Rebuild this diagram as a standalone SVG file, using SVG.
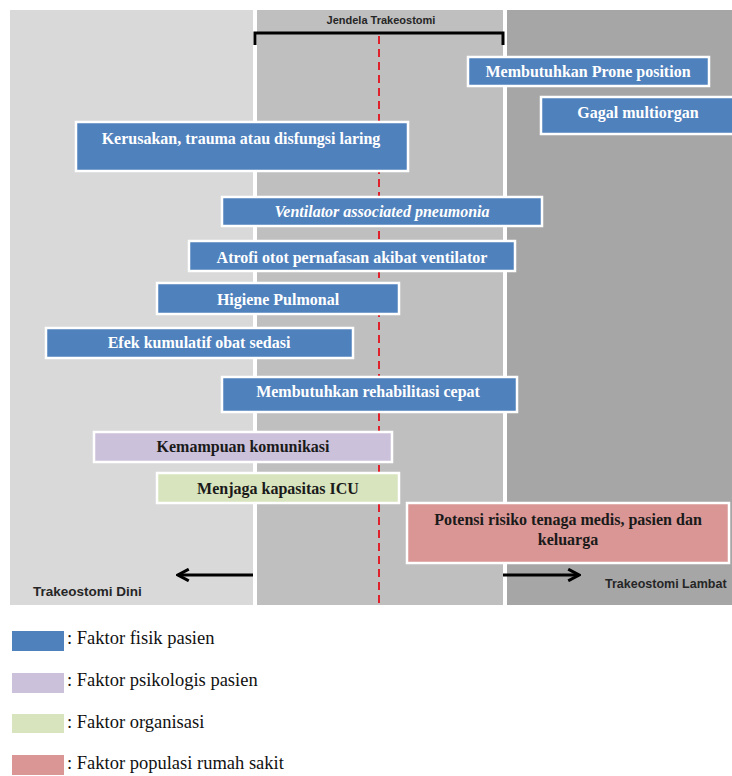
<svg xmlns="http://www.w3.org/2000/svg" width="732" height="776" viewBox="0 0 732 776">
<style>
.bx{stroke:#fff;stroke-width:2.5}
.blue{fill:#4f81bd}
.purple{fill:#ccc1da}
.green{fill:#d7e4bd}
.pink{fill:#d99694}
.tw{font-family:"Liberation Serif","Times New Roman",serif;font-weight:bold;font-size:16px;fill:#fff;text-anchor:middle}
.td{font-family:"Liberation Serif","Times New Roman",serif;font-weight:bold;font-size:16px;fill:#1a1a1a;text-anchor:middle}
.lab{font-family:"Liberation Sans",Arial,sans-serif;font-weight:bold;fill:#262626}
.leg{font-family:"Liberation Serif","Times New Roman",serif;font-size:18.5px;fill:#111}
.arr{stroke:#000;stroke-width:3;fill:none}
</style>
<defs>
<marker id="ah" viewBox="0 0 10 10" refX="8.6" refY="5" markerWidth="4.6" markerHeight="4.6" orient="auto" markerUnits="strokeWidth">
<path d="M0.8,0.8 L8.6,5 L0.8,9.2" fill="none" stroke="#000" stroke-width="2.2" stroke-linejoin="miter"/>
</marker>
</defs>
<rect x="0" y="0" width="732" height="776" fill="#fff"/>
<g id="background">
<rect x="10" y="10" width="243" height="595" fill="#d9d9d9"/>
<rect x="257" y="10" width="246" height="595" fill="#bfbfbf"/>
<rect x="507" y="10" width="225" height="595" fill="#a6a6a6"/>
<line x1="379" y1="36" x2="379" y2="605" stroke="#e0202a" stroke-width="2" stroke-dasharray="8 5"/>
<path d="M255,45 V33 H503 V45" fill="none" stroke="#000" stroke-width="3"/>
<text class="lab" x="381" y="24" font-size="11" text-anchor="middle">Jendela Trakeostomi</text>
<text class="lab" x="33" y="596" font-size="13.5">Trakeostomi Dini</text>
<text class="lab" x="605" y="588" font-size="12.5">Trakeostomi Lambat</text>
</g>
<g id="connectors">
<line class="arr" x1="253" y1="575" x2="178" y2="575" marker-end="url(#ah)"/>
<line class="arr" x1="503" y1="575" x2="579" y2="575" marker-end="url(#ah)"/>
</g>
<g id="n-prone"><rect class="bx blue" x="468" y="57" width="241" height="29"/><text class="tw" x="588" y="77">Membutuhkan Prone position</text></g>
<g id="n-gagal"><rect class="bx blue" x="541" y="97" width="195" height="37"/><text class="tw" x="638" y="118">Gagal multiorgan</text></g>
<g id="n-kerusakan"><rect class="bx blue" x="76" y="122" width="332" height="49"/><text class="tw" x="241" y="144" font-size="17">Kerusakan, trauma atau disfungsi laring</text></g>
<g id="n-vap"><rect class="bx blue" x="222" y="197" width="320" height="29"/><text class="tw" x="382" y="217" font-style="italic">Ventilator associated pneumonia</text></g>
<g id="n-atrofi"><rect class="bx blue" x="189" y="241" width="326" height="30"/><text class="tw" x="352" y="263">Atrofi otot pernafasan akibat ventilator</text></g>
<g id="n-higiene"><rect class="bx blue" x="157" y="283" width="242" height="31"/><text class="tw" x="278" y="305">Higiene Pulmonal</text></g>
<g id="n-efek"><rect class="bx blue" x="46" y="328" width="307" height="30"/><text class="tw" x="199" y="348">Efek kumulatif obat sedasi</text></g>
<g id="n-rehab"><rect class="bx blue" x="222" y="377" width="295" height="35"/><text class="tw" x="368" y="397">Membutuhkan rehabilitasi cepat</text></g>
<g id="n-komunikasi"><rect class="bx purple" x="94" y="432" width="298" height="30"/><text class="td" x="243" y="452">Kemampuan komunikasi</text></g>
<g id="n-icu"><rect class="bx green" x="157" y="473" width="242" height="30"/><text class="td" x="278" y="494">Menjaga kapasitas ICU</text></g>
<g id="n-potensi"><rect class="bx pink" x="407" y="503" width="322" height="60"/><text class="td" x="568" y="525">Potensi risiko tenaga medis, pasien dan</text><text class="td" x="568" y="545">keluarga</text></g>
<g id="legend">
<rect x="12" y="631" width="52" height="20" fill="#4f81bd"/><text class="leg" x="67" y="644">: Faktor fisik pasien</text>
<rect x="12" y="673" width="52" height="20" fill="#ccc1da"/><text class="leg" x="67" y="686">: Faktor psikologis pasien</text>
<rect x="12" y="714" width="52" height="19" fill="#d7e4bd"/><text class="leg" x="67" y="728">: Faktor organisasi</text>
<rect x="12" y="755" width="52" height="20" fill="#d99694"/><text class="leg" x="67" y="769">: Faktor populasi rumah sakit</text>
</g>
</svg>
